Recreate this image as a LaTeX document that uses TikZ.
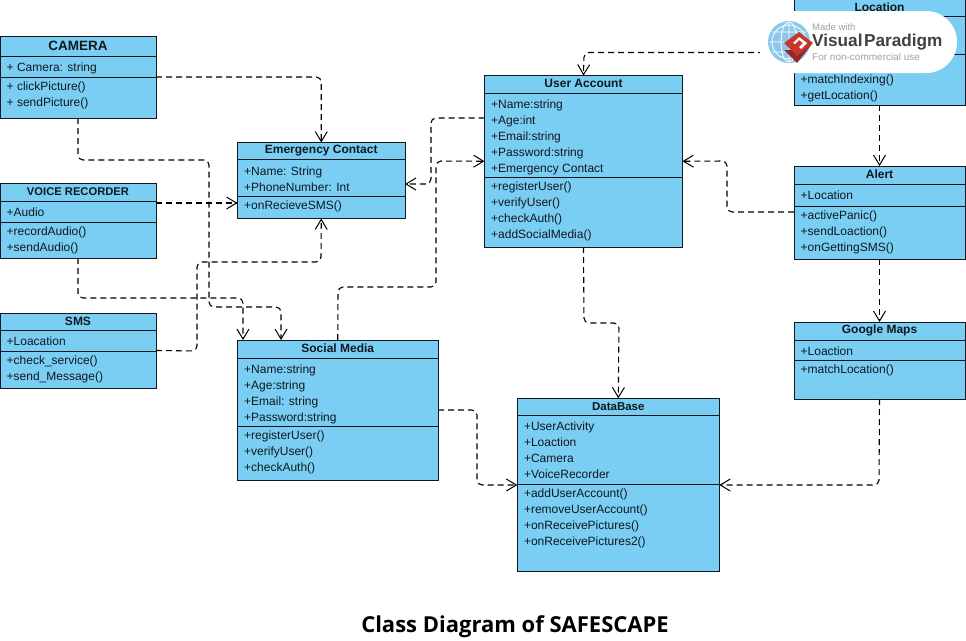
\documentclass[tikz,border=0pt]{standalone}
\usepackage{fontspec}
\setmainfont{Liberation Sans}
\newfontfamily\titlefont{Open Sans}
\usetikzlibrary{arrows.meta,calc}
\definecolor{boxblue}{HTML}{7ACEF4}
\definecolor{inkc}{HTML}{10181E}
\definecolor{wmgray}{HTML}{A0A0A0}
\definecolor{wmdark}{HTML}{404040}
\definecolor{wmred}{HTML}{C8372D}
\definecolor{wmblue}{HTML}{8CC8EA}
\tikzset{
  umlbox/.style={draw=inkc,fill=boxblue,line width=1pt,anchor=north west,inner sep=0pt,outer sep=0pt},
  umlhead/.style={anchor=center,inner sep=0pt,text=inkc,yshift=0.5pt,font=\fontsize{12}{14}\selectfont\bfseries},
  umlrows/.style={anchor=north west,inner sep=0pt,align=left,text=inkc,font=\fontsize{12}{16}\selectfont},
  dep/.style={draw=black,line width=1.1pt,dash pattern=on 6pt off 4pt,rounded corners=5pt,-{Straight Barb[length=10pt,width=12pt,line width=1pt]}},
}
% name, x, y, w, h, sep1, sep2, title font extra, title
\newcommand\umlbox[9]{%
  \def\bn{#1}\def\bx{#2}\def\by{#3}\def\bw{#4}\def\bh{#5}\def\bsa{#6}\def\bsb{#7}\def\bfnt{#8}\def\bt{#9}\umlboxrest}
\newcommand\umlboxrest[2]{%
  \node[umlbox,minimum width=\bw pt,minimum height=\bh pt] (\bn) at (\bx,\by) {};
  \draw[draw=inkc,line width=1pt] (\bx,\bsa) -- ++(\bw,0) (\bx,\bsb) -- ++(\bw,0);
  \node[umlhead] (\bn-title) at ($(\bn.north)!0.5!(\bn.north |- 0,\bsa)$) {\bfnt\bt};
  \node[umlrows] (\bn-attrs) at (\bx+6.5,\bsa+4.3) {\strut #1};
  \node[umlrows] (\bn-ops) at (\bx+6.5,\bsb+2) {\strut #2};
}
\begin{document}
\begin{tikzpicture}[x=1pt,y=-1pt]
\useasboundingbox (0,0) rectangle (966,640);
\fill[white] (0,0) rectangle (966,640);

\umlbox{cam}{0}{36}{156}{82}{56}{77}{\fontsize{13.5}{15}\selectfont}{CAMERA}{+ Camera: string}{+ clickPicture()\\+ sendPicture()}
\umlbox{voice}{0}{183}{156}{75}{201}{222}{\fontsize{11.2}{14}\selectfont}{VOICE RECORDER}{+Audio}{+recordAudio()\\+sendAudio()}
\umlbox{sms}{0}{313}{156}{75}{330}{351}{}{SMS}{+Loacation}{+check\_service()\\+send\_Message()}
\umlbox{emg}{237.5}{142.5}{167.5}{76}{159.3}{196.3}{}{Emergency Contact}{+Name: String\\+PhoneNumber: Int}{+onRecieveSMS()}
\umlbox{soc}{237.5}{340}{200.5}{140}{358}{426}{}{Social Media}{+Name:string\\+Age:string\\+Email: string\\+Password:string}{+registerUser()\\+verifyUser()\\+checkAuth()}
\umlbox{user}{484.5}{75.5}{198}{171.5}{93}{177}{}{User Account}{+Name:string\\+Age:int\\+Email:string\\+Password:string\\+Emergency Contact}{+registerUser()\\+verifyUser()\\+checkAuth()\\+addSocialMedia()}
\umlbox{db}{517.3}{398.3}{202}{172.7}{415}{484}{\fontsize{11.5}{14}\selectfont}{DataBase}{+UserActivity\\+Loaction\\+Camera\\+VoiceRecorder}{+addUserAccount()\\+removeUserAccount()\\+onReceivePictures()\\+onReceivePictures2()}
\umlbox{loc}{794}{-1}{171}{106}{16}{54}{}{Location}{}{\\+matchIndexing()\\+getLocation()}
\umlbox{alert}{794}{166}{171}{93}{184}{206}{}{Alert}{+Location}{+activePanic()\\+sendLoaction()\\+onGettingSMS()}
\umlbox{maps}{794}{322}{171}{77}{340}{360}{}{Google Maps}{+Loaction}{+matchLocation()}

% connectors
\draw[dep] (cam.east) -| (emg.north);
\draw[dep] (cam.south) |- (209,160) -- (209,307) -- (281,307) -- (soc.north west -| 281,0);
\draw[dep] (voice.east |- 0,203) -- (emg.west |- 0,203);
\draw[dep] (voice.south) -- (78,298) -- (243,298) -- (soc.north west -| 243,0);
\draw[dep] (sms.east) -- (197,351) -- (197,262) -- (321,262) -- (emg.south);
\draw[dep] (soc.north) -- (338,287) -- (436,287) -- (436,161) -- (user.west);
\draw[dep] (user.west |- 0,118) -- (431,118) -- (431,184) -- (emg.east |- 0,184);
\draw[dep] (loc.west |- 0,52.5) -- (584,52.5) -- (user.north);
\draw[dep] (loc.south) -- (alert.north);
\draw[dep] (alert.west |- 0,212) -- (727,212) -- (727,161) -- (user.east);
\draw[dep] (alert.south) -- (maps.north);
\draw[dep] (user.south) -- (584,323) -- (619,323) -- (db.north);
\draw[dep] (soc.east |- 0,410) -- (477,410) -- (477,485) -- (db.west |- 0,485);
\draw[dep] (maps.south) -- (879,485) -- (db.east |- 0,485);

% watermark
\fill[white,rounded corners=30.9pt] (758,11) rectangle (957,73);
\fill[wmblue] (789,42) circle (21);
\draw[white,line width=0.8pt] (789,42) circle (17) (789,42) ellipse (8 and 20) (769,42) -- (809,42) (772,32) -- (806,32) (772,52) -- (806,52) (789,22) -- (789,62);
\fill[wmred!75!black] (797,50) -- (812,44) -- (797,63) -- (784,50) -- cycle;
\fill[wmred] (799,32) -- (813,43) -- (797,56) -- (784,43) -- cycle;
\fill[white] (799,37) -- (807,43) -- (801,49) -- (799,47) -- (803,43) -- (799,40) -- (795,44) -- (793,43) -- cycle;
\node[anchor=west,inner sep=0pt,text=wmgray,font=\fontsize{9.5}{11}\selectfont] (wm-a) at (812,27) {Made with};
\node[anchor=west,inner sep=0pt,text=wmdark,font=\fontsize{17.2}{18}\selectfont\bfseries] (wm-b) at (812,42) {Visual\kern1.5pt Paradigm};
\node[anchor=west,inner sep=0pt,text=wmgray,font=\fontsize{10}{11}\selectfont] (wm-c) at (812,57) {For non-commercial use};

\node[inner sep=0pt,font=\fontsize{22}{26}\titlefont\bfseries] (caption) at (515,627) {Class Diagram of SAFESCAPE};
\end{tikzpicture}
\end{document}
